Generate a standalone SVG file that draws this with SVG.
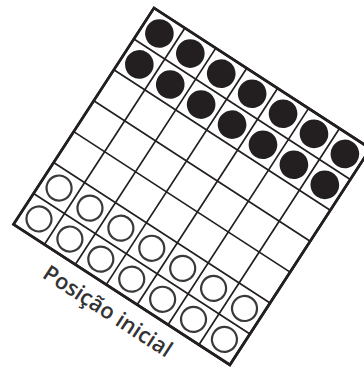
<svg xmlns="http://www.w3.org/2000/svg" width="364" height="367" viewBox="0 0 364 367">
<defs>
<style>
.grid{stroke:#231f20;stroke-width:1.7;fill:none}
.border{stroke:#231f20;stroke-width:2.6;fill:#fff}
.blk{fill:#231f20}
.wht{fill:#fff;stroke:#3a3a3a;stroke-width:2.2}
.lbl{font-family:"Open Sans","Liberation Sans",sans-serif;font-weight:600;font-size:22px;fill:#333}
</style>
</defs>
<rect width="364" height="367" fill="#fff"/>
<g transform="translate(154,8) rotate(33)">
<g id="board">
<rect class="border" x="0" y="0" width="258" height="258"/>
<path class="grid" d="M36.86 0V258M73.71 0V258M110.57 0V258M147.43 0V258M184.29 0V258M221.14 0V258M0 36.86H258M0 73.71H258M0 110.57H258M0 147.43H258M0 184.29H258M0 221.14H258"/>
<rect x="0" y="0" width="258" height="258" fill="none" stroke="#231f20" stroke-width="2.6"/>
</g>
<g id="black-pieces">
<circle class="blk" cx="18.43" cy="18.43" r="14.3"/>
<circle class="blk" cx="55.29" cy="18.43" r="14.3"/>
<circle class="blk" cx="92.14" cy="18.43" r="14.3"/>
<circle class="blk" cx="129" cy="18.43" r="14.3"/>
<circle class="blk" cx="165.86" cy="18.43" r="14.3"/>
<circle class="blk" cx="202.71" cy="18.43" r="14.3"/>
<circle class="blk" cx="239.57" cy="18.43" r="14.3"/>
<circle class="blk" cx="18.43" cy="55.29" r="14.3"/>
<circle class="blk" cx="55.29" cy="55.29" r="14.3"/>
<circle class="blk" cx="92.14" cy="55.29" r="14.3"/>
<circle class="blk" cx="129" cy="55.29" r="14.3"/>
<circle class="blk" cx="165.86" cy="55.29" r="14.3"/>
<circle class="blk" cx="202.71" cy="55.29" r="14.3"/>
<circle class="blk" cx="239.57" cy="55.29" r="14.3"/>
</g>
<g id="white-pieces">
<circle class="wht" cx="18.43" cy="202.71" r="12.5"/>
<circle class="wht" cx="55.29" cy="202.71" r="12.5"/>
<circle class="wht" cx="92.14" cy="202.71" r="12.5"/>
<circle class="wht" cx="129" cy="202.71" r="12.5"/>
<circle class="wht" cx="165.86" cy="202.71" r="12.5"/>
<circle class="wht" cx="202.71" cy="202.71" r="12.5"/>
<circle class="wht" cx="239.57" cy="202.71" r="12.5"/>
<circle class="wht" cx="18.43" cy="239.57" r="12.5"/>
<circle class="wht" cx="55.29" cy="239.57" r="12.5"/>
<circle class="wht" cx="92.14" cy="239.57" r="12.5"/>
<circle class="wht" cx="129" cy="239.57" r="12.5"/>
<circle class="wht" cx="165.86" cy="239.57" r="12.5"/>
<circle class="wht" cx="202.71" cy="239.57" r="12.5"/>
<circle class="wht" cx="239.57" cy="239.57" r="12.5"/>
</g>
<g id="caption">
<text class="lbl" x="52" y="287">Posição inicial</text>
</g>
</g>
</svg>
